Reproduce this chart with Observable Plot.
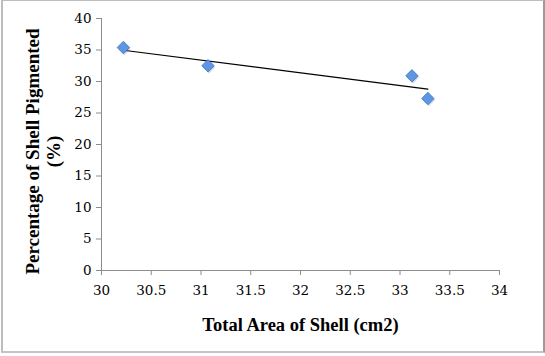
<!DOCTYPE html>
<html>
<head>
<meta charset="utf-8">
<script src="https://cdn.jsdelivr.net/npm/d3@7"></script>
<script src="https://cdn.jsdelivr.net/npm/@observablehq/plot@0.6"></script>
<style>
  html, body { margin: 0; padding: 0; background: #fff; }
  #wrap { position: relative; width: 545px; height: 356px; }
  #border { position: absolute; left: 1px; top: 0px; width: 540px; height: 350px;
            border: 1px solid #bdbdbd; border-right: 2px solid #9a9a9a; border-bottom: 2px solid #c4c4c4;
            border-left: 2px solid #bdbdbd; pointer-events: none; }
</style>
</head>
<body>
<div id="wrap"><div id="border"></div></div>
<script>
const areas = [30.22, 31.07, 33.12, 33.28];
const pigmented = [35.4, 32.5, 30.9, 27.3];
const xTicks = [30, 30.5, 31, 31.5, 32, 32.5, 33, 33.5, 34];
const yTicks = [0, 5, 10, 15, 20, 25, 30, 35, 40];
const xTitle = "Total Area of Shell (cm2)";
const yTitle1 = "Percentage of Shell Pigmented";
const yTitle2 = "(%)";

const data = areas.map((a, i) => ({x: a, y: pigmented[i]}));
const tickFont = "DejaVu Serif";
const titleFont = "Liberation Serif";

const chart = Plot.plot({
  width: 545,
  height: 356,
  marginLeft: 101,
  marginRight: 46,
  marginTop: 18,
  marginBottom: 86,
  style: {fontFamily: "'DejaVu Serif', serif", fontSize: "13.5px", color: "#000", background: "transparent", overflow: "visible"},
  x: {domain: [30, 34], ticks: xTicks, tickFormat: d => String(d), label: null},
  y: {domain: [0, 40], ticks: yTicks, tickFormat: d => String(d), label: null},
  marks: [
    Plot.axisX({ticks: xTicks, tickFormat: d => String(d), tickSize: 5, tickPadding: 10, stroke: "#8c8c8c", fill: "#000", label: null, fontSize: 13.5, fontFamily: tickFont}),
    Plot.axisY({ticks: yTicks, tickFormat: d => String(d), tickSize: 5, tickPadding: 5, stroke: "#8c8c8c", fill: "#000", label: null, fontSize: 13.5, fontFamily: tickFont}),
    Plot.ruleX([30], {stroke: "#8c8c8c"}),
    Plot.ruleY([0], {stroke: "#8c8c8c"}),
    Plot.linearRegressionY(data, {x: "x", y: "y", ci: 0, stroke: "#000", strokeWidth: 1.2}),
    Plot.dot(data, {x: "x", y: "y", symbol: "diamond2", r: 5.6, fill: "#3a5f9a", dx: 1, dy: 1.5, fillOpacity: 0.25, stroke: "none"}),
    Plot.dot(data, {x: "x", y: "y", symbol: "diamond2", r: 5.6, fill: "#5d97e2", stroke: "#3d72c4", strokeWidth: 0.8}),
    Plot.text([xTitle], {frameAnchor: "bottom", dy: 55, text: d => d, fontFamily: titleFont, fontWeight: "bold", fontSize: 18.5, fill: "#000", lineAnchor: "middle"}),
    Plot.text([yTitle1], {frameAnchor: "left", dx: -69, dy: 7, text: d => d, rotate: -90, textAnchor: "middle", fontFamily: titleFont, fontWeight: "bold", fontSize: 19, fill: "#000"}),
    Plot.text([yTitle2], {frameAnchor: "left", dx: -48, dy: 7, text: d => d, rotate: -90, textAnchor: "middle", fontFamily: titleFont, fontWeight: "bold", fontSize: 19, fill: "#000"})
  ]
});
document.getElementById("wrap").prepend(chart);
</script>
</body>
</html>
